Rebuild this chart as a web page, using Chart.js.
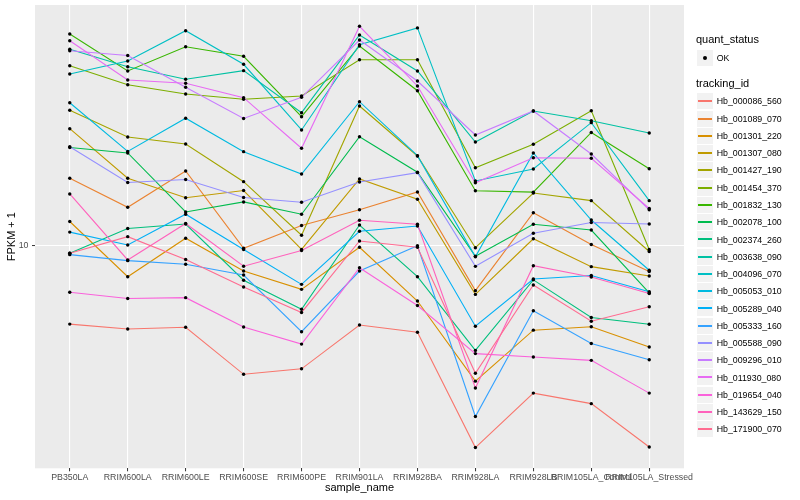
<!DOCTYPE html>
<html>
<head>
<meta charset="utf-8">
<title>FPKM + 1 by sample_name</title>
<script src="https://cdn.jsdelivr.net/npm/chart.js@4.4.1/dist/chart.umd.min.js"></script>
<style>
  html, body { margin: 0; padding: 0; background: #fff; }
  #wrap { position: relative; width: 800px; height: 500px; overflow: hidden;
          font-family: "Liberation Sans", Arial, Helvetica, sans-serif; }
  #chart { position: absolute; left: 0; top: 0; }
  .lg-title { position: absolute; left: 696px; font-size: 11px; line-height: 11px; color: #000; white-space: nowrap; }
  .lg-key { position: absolute; left: 697px; width: 16px; height: 16px;
            background: #f2f2f2; }
  .lg-line { position: absolute; left: 1px; width: 14px; top: 7px; height: 2px; }
  .lg-dot { position: absolute; left: 6px; top: 6px; width: 4px; height: 4px;
            border-radius: 50%; background: #000; }
  .lg-text { position: absolute; left: 716.7px; font-size: 8.8px; line-height: 10px; color: #000; white-space: nowrap; }
</style>
</head>
<body>
<div id="wrap">
  <canvas id="chart" width="800" height="500"></canvas>
  <div id="legend"></div>
</div>
<script>
const categories = ["PB350LA", "RRIM600LA", "RRIM600LE", "RRIM600SE", "RRIM600PE", "RRIM901LA",
    "RRIM928BA", "RRIM928LA", "RRIM928LB", "RRIM105LA_Control", "RRIM105LA_Stressed"];

const trackingIds = ["Hb_000086_560", "Hb_001089_070", "Hb_001301_220", "Hb_001307_080", "Hb_001427_190",
    "Hb_001454_370", "Hb_001832_130", "Hb_002078_100", "Hb_002374_260", "Hb_003638_090",
    "Hb_004096_070", "Hb_005053_010", "Hb_005289_040", "Hb_005333_160", "Hb_005588_090",
    "Hb_009296_010", "Hb_011930_080", "Hb_019654_040", "Hb_143629_150", "Hb_171900_070"];

const lineColors = ["#F8766D", "#EA8331", "#D89000", "#C09B00", "#A3A500", "#7CAE00", "#39B600", "#00BB4E",
    "#00BF7D", "#00C1A3", "#00BFC4", "#00BAE0", "#00B0F6", "#35A2FF", "#9590FF", "#C77CFF", "#E76BF3",
    "#FA62DB", "#FF62BC", "#FF6C91"];

// FPKM + 1, one value per sample, same order as categories
const hb_000086_560 = [5.47, 5.27, 5.34, 3.72, 3.88, 5.43, 5.14, 2.12, 3.22, 2.97, 2.13];
const hb_001089_070 = [16.75, 13.41, 17.72, 9.79, 11.66, 13.16, 15.08, 7.07, 12.86, 10.08, 8.19];
const hb_001301_220 = [12.02, 7.87, 10.57, 8.22, 7.14, 9.86, 6.53, 3.53, 5.22, 5.36, 4.59];
const hb_001307_080 = [24.51, 16.75, 14.43, 15.25, 9.70, 16.66, 14.26, 6.87, 10.53, 8.50, 7.91];
const hb_001427_190 = [28.23, 23.00, 21.79, 16.32, 10.82, 29.18, 19.88, 9.83, 14.96, 14.11, 9.55];
const hb_001454_370 = [39.75, 34.36, 31.99, 30.71, 31.50, 41.62, 41.62, 18.17, 21.74, 28.14, 9.70];
const hb_001832_130 = [50.70, 38.17, 45.99, 42.72, 26.87, 46.24, 32.81, 15.23, 15.06, 23.81, 18.03];
const hb_002078_100 = [21.22, 20.34, 12.93, 13.97, 12.71, 23.05, 17.54, 9.21, 11.77, 11.26, 6.95];
const hb_002374_260 = [9.42, 11.39, 11.79, 7.66, 6.13, 11.70, 7.87, 4.47, 7.68, 5.75, 5.46];
const hb_003638_090 = [45.09, 39.45, 35.81, 38.26, 27.71, 50.31, 38.17, 22.13, 28.08, 26.06, 23.71];
const hb_004096_070 = [37.30, 41.21, 52.00, 40.18, 24.27, 46.70, 53.13, 16.41, 17.99, 25.67, 14.11];
const hb_005053_010 = [29.92, 20.58, 26.57, 20.55, 17.31, 30.15, 19.92, 9.17, 20.34, 12.16, 8.27];
const hb_005289_040 = [11.08, 10.04, 12.71, 9.70, 7.42, 11.15, 11.61, 5.38, 7.73, 7.94, 7.01];
const hb_005333_160 = [9.32, 8.90, 8.66, 7.97, 5.16, 8.22, 9.98, 2.69, 6.06, 4.71, 4.16];
const hb_005588_090 = [21.33, 16.22, 16.60, 14.46, 13.94, 16.28, 17.49, 8.52, 10.99, 11.93, 11.79];
const hb_009296_010 = [44.60, 42.99, 33.68, 26.50, 31.19, 48.42, 35.35, 23.35, 28.08, 20.18, 13.15];
const hb_011930_080 = [48.16, 35.62, 34.73, 31.09, 21.09, 53.78, 34.02, 16.19, 19.62, 19.53, 13.28];
const hb_019654_040 = [6.98, 6.66, 6.70, 5.35, 4.69, 8.43, 6.31, 4.36, 4.25, 4.14, 3.22];
const hb_143629_150 = [14.85, 8.95, 11.84, 8.53, 9.62, 12.14, 11.77, 3.35, 8.56, 7.85, 6.92];
const hb_171900_070 = [9.42, 10.70, 8.98, 7.27, 5.98, 10.35, 9.86, 3.75, 7.38, 5.59, 6.25];

const seriesValues = [hb_000086_560, hb_001089_070, hb_001301_220, hb_001307_080, hb_001427_190,
    hb_001454_370, hb_001832_130, hb_002078_100, hb_002374_260, hb_003638_090,
    hb_004096_070, hb_005053_010, hb_005289_040, hb_005333_160, hb_005588_090,
    hb_009296_010, hb_011930_080, hb_019654_040, hb_143629_150, hb_171900_070];

const yTicks = [10];
const quantStatus = ["OK"];

Chart.defaults.font.family = '"Liberation Sans", Arial, Helvetica, sans-serif';

// grey panel behind the grid, like ggplot
const panelBg = {
    id: "panelBg",
    beforeDraw(chart) {
        const a = chart.chartArea;
        const c = chart.ctx;
        c.save();
        c.fillStyle = "#EBEBEB";
        c.fillRect(a.left, a.top, a.right - a.left, a.bottom - a.top);
        c.restore();
    }
};

const lineSets = trackingIds.map((id, i) => ({
    label: id,
    data: seriesValues[i].map((v, j) => ({ x: j, y: v })),
    borderColor: lineColors[i],
    borderWidth: 1.1,
    pointRadius: 0,
    pointHoverRadius: 0,
    tension: 0,
    order: trackingIds.length - i
}));

const pointSet = {
    label: quantStatus[0],
    data: seriesValues.flatMap(vals => vals.map((v, j) => ({ x: j, y: v }))),
    showLine: false,
    pointRadius: 1.7,
    pointHoverRadius: 1.7,
    pointBackgroundColor: "#000",
    pointBorderWidth: 0,
    order: 0
};

const ctx = document.getElementById("chart").getContext("2d");

let chart = new Chart(ctx, {
    type: "line",
    data: { datasets: [...lineSets, pointSet] },
    plugins: [panelBg],
    options: {
        responsive: false,
        animation: false,
        events: [],
        layout: { padding: { left: 0, right: 116, top: 5, bottom: 0 } },
        plugins: { legend: { display: false }, tooltip: { enabled: false } },
        scales: {
            x: {
                type: "linear",
                min: -0.6,
                max: categories.length - 0.4,
                afterBuildTicks: axis => { axis.ticks = categories.map((c, i) => ({ value: i })); },
                afterFit: axis => { axis.height = 31.7; axis.paddingLeft = 0; axis.paddingRight = 0; },
                grid: { color: "#fff", lineWidth: 1.1, drawTicks: true, tickLength: 3, tickColor: "#333", tickWidth: 1 },
                border: { display: false },
                ticks: {
                    autoSkip: false, maxRotation: 0, minRotation: 0, padding: 1,
                    color: "#4D4D4D", font: { size: 8.8 },
                    callback: v => categories[v]
                },
                title: {
                    display: true, text: "sample_name", color: "#000",
                    font: { size: 11, lineHeight: 1 }, padding: { top: 0, bottom: 7 }
                }
            },
            y: {
                type: "logarithmic",
                min: 1.808,
                max: 63.34,
                afterBuildTicks: axis => { axis.ticks = yTicks.map(v => ({ value: v })); },
                afterFit: axis => { axis.width = 35; axis.paddingTop = 0; axis.paddingBottom = 0; },
                grid: { color: "#fff", lineWidth: 1.1, drawTicks: true, tickLength: 3, tickColor: "#333", tickWidth: 1 },
                border: { display: false },
                ticks: {
                    padding: 3.5, color: "#4D4D4D", font: { size: 8.8 },
                    callback: v => String(v)
                },
                title: {
                    display: true, text: "FPKM + 1", color: "#000",
                    font: { size: 11, lineHeight: 1 }, padding: { top: 6.5, bottom: 0 }
                }
            }
        }
    }
});

// legend, ggplot style, on the right
const legendBox = document.getElementById("legend");

function addDiv(parent, className, top, text) {
    const d = document.createElement("div");
    d.className = className;
    if (top !== null) d.style.top = top + "px";
    if (text) d.textContent = text;
    parent.appendChild(d);
    return d;
}

addDiv(legendBox, "lg-title", 34, "quant_status");
quantStatus.forEach((s, i) => {
    const c = 57.6 + i * 17.26;
    const key = addDiv(legendBox, "lg-key", Math.round(c - 8));
    addDiv(key, "lg-dot", null);
    addDiv(legendBox, "lg-text", c - 4.85, s);
});

addDiv(legendBox, "lg-title", 78, "tracking_id");
trackingIds.forEach((id, i) => {
    const c = 101.3 + i * 17.26;
    const key = addDiv(legendBox, "lg-key", Math.round(c - 8));
    const ln = addDiv(key, "lg-line", null);
    ln.style.background = lineColors[i];
    addDiv(legendBox, "lg-text", c - 4.85, id);
});
</script>
</body>
</html>
